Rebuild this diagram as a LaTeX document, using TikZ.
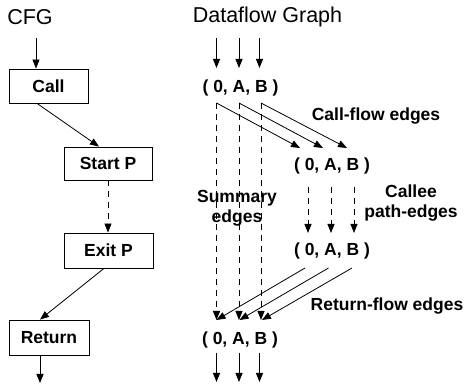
\documentclass[tikz,border=0pt]{standalone}
\usepackage{fontspec}
\setmainfont{Liberation Sans}
\usetikzlibrary{arrows.meta}
\tikzset{
  conn/.style={line width=0.8pt,-{Triangle[length=9pt,width=7pt]}},
  dconn/.style={conn,dash pattern=on 6pt off 5pt},
  cfgbox/.style={draw,line width=0.8pt,font=\bfseries\fontsize{17.5}{20}\selectfont,inner sep=0pt,anchor=center},
  trip/.style={font=\bfseries\fontsize{17.5}{20}\selectfont,inner sep=0pt},
  lbl/.style={font=\bfseries\fontsize{17.5}{20}\selectfont,align=center,inner sep=0pt},
  ttl/.style={font=\fontsize{21.5}{24}\selectfont,inner sep=0pt}
}
\begin{document}
\begin{tikzpicture}[x=1pt,y=-1pt]
\useasboundingbox (0,0) rectangle (464,387);
% titles
\node[ttl] (cfg) at (30,17) {CFG};
\node[ttl] (dfg) at (267.5,17) {Dataflow Graph};
% CFG boxes
\node[cfgbox,minimum width=79pt,minimum height=34pt] (call) at (48.5,86) {Call};
\node[cfgbox,minimum width=88pt,minimum height=33pt] (start) at (108,163.5) {Start P};
\node[cfgbox,minimum width=89pt,minimum height=35pt] (exit) at (108.5,250.5) {Exit P};
\node[cfgbox,minimum width=80pt,minimum height=35pt] (ret) at (49,337.5) {Return};
\coordinate (cin) at (36,38);
\coordinate (cout) at (40,383);
\draw[conn] (cin) -- (cin |- call.north);
\draw[conn] ([xshift=-11.5pt]call.south) -- ([xshift=-9pt]start.north);
\draw[dconn] (start.south) -- (start.south |- exit.north);
\draw[conn] ([xshift=-4.5pt]exit.south) -- ([xshift=-9pt]ret.north);
\draw[conn] (cout |- ret.south) -- (cout);
% triples
\node[trip] (t1) at (240.5,88) {( 0, A, B )};
\node[trip] (t2) at (332,166) {( 0, A, B )};
\node[trip] (t3) at (332,251) {( 0, A, B )};
\node[trip] (t4) at (240,340) {( 0, A, B )};
% ports
\foreach \i/\xa/\xb in {0/216.5/216.5,1/239/239,2/259.5/261}{
  \coordinate (in\i) at (\xa,38);
  \coordinate (p1n\i) at (\xa,68);
  \coordinate (p1s\i) at (\xb,103);
}
\foreach \i/\xa/\xb/\xc in {0/300/308/305,1/323/331/328.5,2/347/354/352}{
  \coordinate (p2n\i) at (\xa,148);
  \coordinate (p2s\i) at (\xb,187);
  \coordinate (p3n\i) at (\xb,233);
  \coordinate (p3s\i) at (\xc,268);
}
\foreach \i/\xa/\xb in {0/216.5/216.5,1/239.5/239,2/262/259.5}{
  \coordinate (p4n\i) at (\xa,320);
  \coordinate (p4s\i) at (\xb,353);
  \coordinate (out\i) at (\xb,382);
}
\foreach \i in {0,1,2}{
  \draw[conn] (in\i) -- (p1n\i);
  \draw[conn] (p1s\i) -- (p2n\i);
  \draw[dconn] (p1s\i) -- (p1s\i |- p4n\i);
  \draw[dconn] (p2s\i) -- (p3n\i);
  \draw[conn] (p3s\i) -- (p4n\i);
  \draw[conn] (p4s\i) -- (out\i);
}
% labels
\node[lbl] (lcall) at (376,116) {Call-flow edges};
\node[lbl] (lcallee) at (411,203) {Callee\\path-edges};
\node[lbl] (lsum) at (237,208) {Summary\\edges};
\node[lbl] (lret) at (387,306) {Return-flow edges};
\end{tikzpicture}
\end{document}
